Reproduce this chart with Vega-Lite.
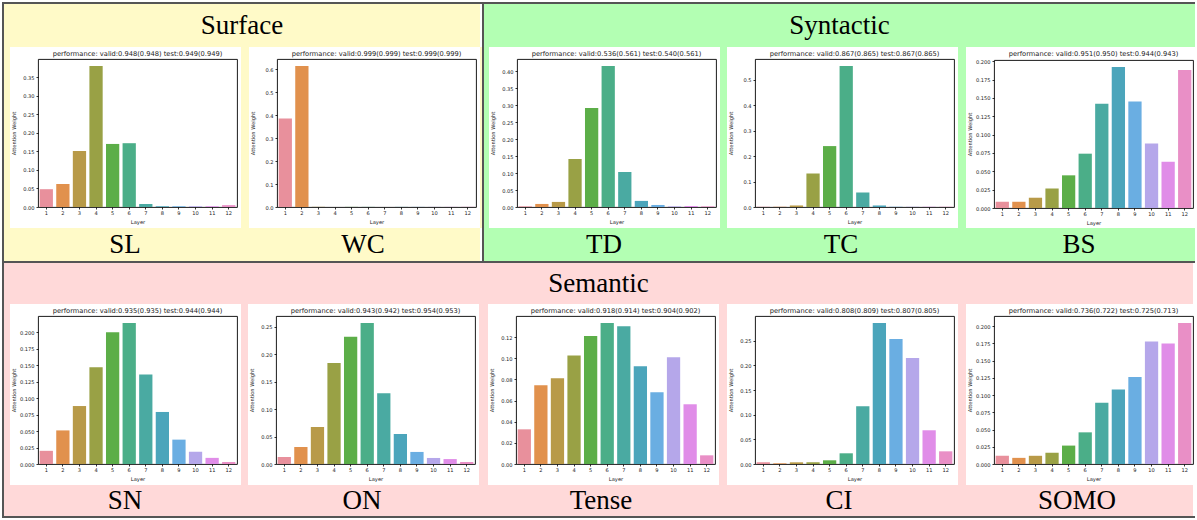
{
"$schema": "https://vega.github.io/schema/vega-lite/v6.json",
"padding": 2,
"background": "white",
"spacing": 0,
"config": {
 "concat": {"spacing": 0},
 "view": {"stroke": "#000", "strokeWidth": 0.9, "fill": "white"},
 "axis": {"domain": false, "grid": false, "tickColor": "#000", "tickSize": 2, "tickWidth": 0.8, "labelFont": "DejaVu Sans", "labelFontSize": 5.1, "labelColor": "#222", "titleFont": "DejaVu Sans", "titleFontSize": 5.2, "titleFontWeight": "normal", "titleColor": "#222"},
 "axisX": {"labelAngle": 0, "labelPadding": 1.5, "titlePadding": 4},
 "axisY": {"minExtent": 20, "maxExtent": 20, "labelPadding": 2, "titlePadding": 2},
 "title": {"font": "DejaVu Sans", "fontSize": 6.7, "fontWeight": "normal", "color": "#1a1a1a", "offset": 1.5}
},
"datasets": {
 "attn": [
  {"task":"SL","layer":1,"weight":0.048},{"task":"SL","layer":2,"weight":0.062},{"task":"SL","layer":3,"weight":0.151},{"task":"SL","layer":4,"weight":0.380},{"task":"SL","layer":5,"weight":0.170},{"task":"SL","layer":6,"weight":0.172},{"task":"SL","layer":7,"weight":0.008},{"task":"SL","layer":8,"weight":0.002},{"task":"SL","layer":9,"weight":0.002},{"task":"SL","layer":10,"weight":0.002},{"task":"SL","layer":11,"weight":0.002},{"task":"SL","layer":12,"weight":0.005},
  {"task":"WC","layer":1,"weight":0.386},{"task":"WC","layer":2,"weight":0.614},{"task":"WC","layer":3,"weight":0.0008},{"task":"WC","layer":4,"weight":0.0005},{"task":"WC","layer":5,"weight":0.0005},{"task":"WC","layer":6,"weight":0.0005},{"task":"WC","layer":7,"weight":0.0005},{"task":"WC","layer":8,"weight":0.0005},{"task":"WC","layer":9,"weight":0.0005},{"task":"WC","layer":10,"weight":0.0005},{"task":"WC","layer":11,"weight":0.0005},{"task":"WC","layer":12,"weight":0.0008},
  {"task":"TD","layer":1,"weight":0.002},{"task":"TD","layer":2,"weight":0.009},{"task":"TD","layer":3,"weight":0.015},{"task":"TD","layer":4,"weight":0.142},{"task":"TD","layer":5,"weight":0.292},{"task":"TD","layer":6,"weight":0.416},{"task":"TD","layer":7,"weight":0.103},{"task":"TD","layer":8,"weight":0.018},{"task":"TD","layer":9,"weight":0.006},{"task":"TD","layer":10,"weight":0.002},{"task":"TD","layer":11,"weight":0.003},{"task":"TD","layer":12,"weight":0.002},
  {"task":"TC","layer":1,"weight":0.001},{"task":"TC","layer":2,"weight":0.001},{"task":"TC","layer":3,"weight":0.006},{"task":"TC","layer":4,"weight":0.131},{"task":"TC","layer":5,"weight":0.239},{"task":"TC","layer":6,"weight":0.553},{"task":"TC","layer":7,"weight":0.057},{"task":"TC","layer":8,"weight":0.006},{"task":"TC","layer":9,"weight":0.001},{"task":"TC","layer":10,"weight":0.001},{"task":"TC","layer":11,"weight":0.001},{"task":"TC","layer":12,"weight":0.001},
  {"task":"BS","layer":1,"weight":0.0085},{"task":"BS","layer":2,"weight":0.0085},{"task":"BS","layer":3,"weight":0.014},{"task":"BS","layer":4,"weight":0.0265},{"task":"BS","layer":5,"weight":0.0445},{"task":"BS","layer":6,"weight":0.074},{"task":"BS","layer":7,"weight":0.142},{"task":"BS","layer":8,"weight":0.192},{"task":"BS","layer":9,"weight":0.145},{"task":"BS","layer":10,"weight":0.088},{"task":"BS","layer":11,"weight":0.063},{"task":"BS","layer":12,"weight":0.188},
  {"task":"SN","layer":1,"weight":0.020},{"task":"SN","layer":2,"weight":0.051},{"task":"SN","layer":3,"weight":0.088},{"task":"SN","layer":4,"weight":0.147},{"task":"SN","layer":5,"weight":0.200},{"task":"SN","layer":6,"weight":0.214},{"task":"SN","layer":7,"weight":0.136},{"task":"SN","layer":8,"weight":0.079},{"task":"SN","layer":9,"weight":0.037},{"task":"SN","layer":10,"weight":0.0186},{"task":"SN","layer":11,"weight":0.0093},{"task":"SN","layer":12,"weight":0.003},
  {"task":"ON","layer":1,"weight":0.0128},{"task":"ON","layer":2,"weight":0.031},{"task":"ON","layer":3,"weight":0.0675},{"task":"ON","layer":4,"weight":0.184},{"task":"ON","layer":5,"weight":0.232},{"task":"ON","layer":6,"weight":0.257},{"task":"ON","layer":7,"weight":0.129},{"task":"ON","layer":8,"weight":0.0547},{"task":"ON","layer":9,"weight":0.022},{"task":"ON","layer":10,"weight":0.011},{"task":"ON","layer":11,"weight":0.009},{"task":"ON","layer":12,"weight":0.0036},
  {"task":"Tense","layer":1,"weight":0.0328},{"task":"Tense","layer":2,"weight":0.0745},{"task":"Tense","layer":3,"weight":0.0812},{"task":"Tense","layer":4,"weight":0.1026},{"task":"Tense","layer":5,"weight":0.121},{"task":"Tense","layer":6,"weight":0.1333},{"task":"Tense","layer":7,"weight":0.1304},{"task":"Tense","layer":8,"weight":0.0925},{"task":"Tense","layer":9,"weight":0.0679},{"task":"Tense","layer":10,"weight":0.101},{"task":"Tense","layer":11,"weight":0.0565},{"task":"Tense","layer":12,"weight":0.0082},
  {"task":"CI","layer":1,"weight":0.0034},{"task":"CI","layer":2,"weight":0.0014},{"task":"CI","layer":3,"weight":0.0034},{"task":"CI","layer":4,"weight":0.0034},{"task":"CI","layer":5,"weight":0.0075},{"task":"CI","layer":6,"weight":0.0217},{"task":"CI","layer":7,"weight":0.1172},{"task":"CI","layer":8,"weight":0.2859},{"task":"CI","layer":9,"weight":0.2534},{"task":"CI","layer":10,"weight":0.2148},{"task":"CI","layer":11,"weight":0.0684},{"task":"CI","layer":12,"weight":0.0257},
  {"task":"SOMO","layer":1,"weight":0.0119},{"task":"SOMO","layer":2,"weight":0.0089},{"task":"SOMO","layer":3,"weight":0.0119},{"task":"SOMO","layer":4,"weight":0.0163},{"task":"SOMO","layer":5,"weight":0.0267},{"task":"SOMO","layer":6,"weight":0.0459},{"task":"SOMO","layer":7,"weight":0.0889},{"task":"SOMO","layer":8,"weight":0.1081},{"task":"SOMO","layer":9,"weight":0.126},{"task":"SOMO","layer":10,"weight":0.1778},{"task":"SOMO","layer":11,"weight":0.1748},{"task":"SOMO","layer":12,"weight":0.2044}
 ]
},
"vconcat": [
 {"width": 1193, "height": 2, "view": {"fill": "#555555", "stroke": null}, "data": {"values": [{}]}, "mark": {"type": "point", "size": 0, "filled": true, "opacity": 0}, "encoding": {}},
 {"hconcat": [
  {"width": 2, "height": 257, "view": {"fill": "#555555", "stroke": null}, "data": {"values": [{}]}, "mark": {"type": "point", "size": 0, "filled": true, "opacity": 0}, "encoding": {}},
  {"vconcat": [
   {"width": 476, "height": 43, "view": {"fill": "#fffac8", "stroke": null}, "data": {"values": [{"t": "Surface"}]}, "mark": {"type": "text", "font": "Liberation Serif", "fontSize": 27, "baseline": "middle", "color": "#000"}, "encoding": {"text": {"field": "t"}}},
   {"hconcat": [
    {"width": 6, "height": 181, "view": {"fill": "#fffac8", "stroke": null}, "data": {"values": [{}]}, "mark": {"type": "point", "size": 0, "filled": true, "opacity": 0}, "encoding": {}},
    {"vconcat": [
     {"width": 202.5, "height": 3, "view": {"fill": "white", "stroke": null}, "data": {"values": [{}]}, "mark": {"type": "point", "size": 0, "filled": true, "opacity": 0}, "encoding": {}},
     {"width": 199, "height": 148, "title": "performance: valid:0.948(0.948) test:0.949(0.949)", "data": {"name": "attn"}, "transform": [{"filter": "datum.task === 'SL'"}], "mark": "bar",
      "encoding": {
       "x": {"field": "layer", "type": "ordinal", "title": "Layer", "scale": {"paddingInner": 0.2, "paddingOuter": 0.1}},
       "y": {"field": "weight", "type": "quantitative", "title": "Attention Weight", "scale": {"domain": [0, 0.399], "nice": false}, "axis": {"values": [0, 0.05, 0.1, 0.15, 0.2, 0.25, 0.3, 0.35], "format": ".2f"}},
       "color": {"field": "layer", "type": "ordinal", "scale": {"domain": [1,2,3,4,5,6,7,8,9,10,11,12], "range": ["#e8909c","#e1914d","#b89a48","#99a145","#5cae48","#4bae88","#4aaaa2","#4ba5bb","#6aaee2","#b5a7ea","#e08de8","#e98fc6"]}, "legend": null}}}
    ], "spacing": 0},
    {"width": 8, "height": 181, "view": {"fill": "#fffac8", "stroke": null}, "data": {"values": [{}]}, "mark": {"type": "point", "size": 0, "filled": true, "opacity": 0}, "encoding": {}},
    {"vconcat": [
     {"width": 202.5, "height": 3, "view": {"fill": "white", "stroke": null}, "data": {"values": [{}]}, "mark": {"type": "point", "size": 0, "filled": true, "opacity": 0}, "encoding": {}},
     {"width": 199, "height": 148, "title": "performance: valid:0.999(0.999) test:0.999(0.999)", "data": {"name": "attn"}, "transform": [{"filter": "datum.task === 'WC'"}], "mark": "bar",
      "encoding": {
       "x": {"field": "layer", "type": "ordinal", "title": "Layer", "scale": {"paddingInner": 0.2, "paddingOuter": 0.1}},
       "y": {"field": "weight", "type": "quantitative", "title": "Attention Weight", "scale": {"domain": [0, 0.645], "nice": false}, "axis": {"values": [0, 0.1, 0.2, 0.3, 0.4, 0.5, 0.6], "format": ".1f"}},
       "color": {"field": "layer", "type": "ordinal", "scale": {"domain": [1,2,3,4,5,6,7,8,9,10,11,12], "range": ["#e8909c","#e1914d","#b89a48","#99a145","#5cae48","#4bae88","#4aaaa2","#4ba5bb","#6aaee2","#b5a7ea","#e08de8","#e98fc6"]}, "legend": null}}}
    ], "spacing": 0},
    {"width": 2, "height": 181, "view": {"fill": "#fffac8", "stroke": null}, "data": {"values": [{}]}, "mark": {"type": "point", "size": 0, "filled": true, "opacity": 0}, "encoding": {}}
   ], "spacing": 0},
   {"hconcat": [
    {"width": 6, "height": 33, "view": {"fill": "#fffac8", "stroke": null}, "data": {"values": [{}]}, "mark": {"type": "point", "size": 0, "filled": true, "opacity": 0}, "encoding": {}},
    {"width": 230, "height": 33, "view": {"fill": "#fffac8", "stroke": null}, "data": {"values": [{"t": "SL"}]}, "mark": {"type": "text", "font": "Liberation Serif", "fontSize": 27, "baseline": "middle", "color": "#000"}, "encoding": {"text": {"field": "t"}}},
    {"width": 8, "height": 33, "view": {"fill": "#fffac8", "stroke": null}, "data": {"values": [{}]}, "mark": {"type": "point", "size": 0, "filled": true, "opacity": 0}, "encoding": {}},
    {"width": 230, "height": 33, "view": {"fill": "#fffac8", "stroke": null}, "data": {"values": [{"t": "WC"}]}, "mark": {"type": "text", "font": "Liberation Serif", "fontSize": 27, "baseline": "middle", "color": "#000"}, "encoding": {"text": {"field": "t"}}},
    {"width": 2, "height": 33, "view": {"fill": "#fffac8", "stroke": null}, "data": {"values": [{}]}, "mark": {"type": "point", "size": 0, "filled": true, "opacity": 0}, "encoding": {}}
   ], "spacing": 0}
  ], "spacing": 0},
  {"width": 2, "height": 257, "view": {"fill": "#555555", "stroke": null}, "data": {"values": [{}]}, "mark": {"type": "point", "size": 0, "filled": true, "opacity": 0}, "encoding": {}},
  {"vconcat": [
   {"width": 711, "height": 43, "view": {"fill": "#b3ffb3", "stroke": null}, "data": {"values": [{"t": "Syntactic"}]}, "mark": {"type": "text", "font": "Liberation Serif", "fontSize": 27, "baseline": "middle", "color": "#000"}, "encoding": {"text": {"field": "t"}}},
   {"hconcat": [
    {"width": 5, "height": 181, "view": {"fill": "#b3ffb3", "stroke": null}, "data": {"values": [{}]}, "mark": {"type": "point", "size": 0, "filled": true, "opacity": 0}, "encoding": {}},
    {"vconcat": [
     {"width": 202.5, "height": 3, "view": {"fill": "white", "stroke": null}, "data": {"values": [{}]}, "mark": {"type": "point", "size": 0, "filled": true, "opacity": 0}, "encoding": {}},
     {"width": 199, "height": 148, "title": "performance: valid:0.536(0.561) test:0.540(0.561)", "data": {"name": "attn"}, "transform": [{"filter": "datum.task === 'TD'"}], "mark": "bar",
      "encoding": {
       "x": {"field": "layer", "type": "ordinal", "title": "Layer", "scale": {"paddingInner": 0.2, "paddingOuter": 0.1}},
       "y": {"field": "weight", "type": "quantitative", "title": "Attention Weight", "scale": {"domain": [0, 0.4368], "nice": false}, "axis": {"values": [0, 0.05, 0.1, 0.15, 0.2, 0.25, 0.3, 0.35, 0.4], "format": ".2f"}},
       "color": {"field": "layer", "type": "ordinal", "scale": {"domain": [1,2,3,4,5,6,7,8,9,10,11,12], "range": ["#e8909c","#e1914d","#b89a48","#99a145","#5cae48","#4bae88","#4aaaa2","#4ba5bb","#6aaee2","#b5a7ea","#e08de8","#e98fc6"]}, "legend": null}}}
    ], "spacing": 0},
    {"width": 7, "height": 181, "view": {"fill": "#b3ffb3", "stroke": null}, "data": {"values": [{}]}, "mark": {"type": "point", "size": 0, "filled": true, "opacity": 0}, "encoding": {}},
    {"vconcat": [
     {"width": 202.5, "height": 3, "view": {"fill": "white", "stroke": null}, "data": {"values": [{}]}, "mark": {"type": "point", "size": 0, "filled": true, "opacity": 0}, "encoding": {}},
     {"width": 199, "height": 148, "title": "performance: valid:0.867(0.865) test:0.867(0.865)", "data": {"name": "attn"}, "transform": [{"filter": "datum.task === 'TC'"}], "mark": "bar",
      "encoding": {
       "x": {"field": "layer", "type": "ordinal", "title": "Layer", "scale": {"paddingInner": 0.2, "paddingOuter": 0.1}},
       "y": {"field": "weight", "type": "quantitative", "title": "Attention Weight", "scale": {"domain": [0, 0.5807], "nice": false}, "axis": {"values": [0, 0.1, 0.2, 0.3, 0.4, 0.5], "format": ".1f"}},
       "color": {"field": "layer", "type": "ordinal", "scale": {"domain": [1,2,3,4,5,6,7,8,9,10,11,12], "range": ["#e8909c","#e1914d","#b89a48","#99a145","#5cae48","#4bae88","#4aaaa2","#4ba5bb","#6aaee2","#b5a7ea","#e08de8","#e98fc6"]}, "legend": null}}}
    ], "spacing": 0},
    {"width": 8, "height": 181, "view": {"fill": "#b3ffb3", "stroke": null}, "data": {"values": [{}]}, "mark": {"type": "point", "size": 0, "filled": true, "opacity": 0}, "encoding": {}},
    {"vconcat": [
     {"width": 202.5, "height": 3, "view": {"fill": "white", "stroke": null}, "data": {"values": [{}]}, "mark": {"type": "point", "size": 0, "filled": true, "opacity": 0}, "encoding": {}},
     {"width": 199, "height": 148, "title": "performance: valid:0.951(0.950) test:0.944(0.943)", "data": {"name": "attn"}, "transform": [{"filter": "datum.task === 'BS'"}], "mark": "bar",
      "encoding": {
       "x": {"field": "layer", "type": "ordinal", "title": "Layer", "scale": {"paddingInner": 0.2, "paddingOuter": 0.1}},
       "y": {"field": "weight", "type": "quantitative", "title": "Attention Weight", "scale": {"domain": [0, 0.2016], "nice": false}, "axis": {"values": [0, 0.025, 0.05, 0.075, 0.1, 0.125, 0.15, 0.175, 0.2], "format": ".3f"}},
       "color": {"field": "layer", "type": "ordinal", "scale": {"domain": [1,2,3,4,5,6,7,8,9,10,11,12], "range": ["#e8909c","#e1914d","#b89a48","#99a145","#5cae48","#4bae88","#4aaaa2","#4ba5bb","#6aaee2","#b5a7ea","#e08de8","#e98fc6"]}, "legend": null}}}
    ], "spacing": 0},
    {"width": 1, "height": 181, "view": {"fill": "#b3ffb3", "stroke": null}, "data": {"values": [{}]}, "mark": {"type": "point", "size": 0, "filled": true, "opacity": 0}, "encoding": {}}
   ], "spacing": 0},
   {"hconcat": [
    {"width": 5, "height": 33, "view": {"fill": "#b3ffb3", "stroke": null}, "data": {"values": [{}]}, "mark": {"type": "point", "size": 0, "filled": true, "opacity": 0}, "encoding": {}},
    {"width": 230, "height": 33, "view": {"fill": "#b3ffb3", "stroke": null}, "data": {"values": [{"t": "TD"}]}, "mark": {"type": "text", "font": "Liberation Serif", "fontSize": 27, "baseline": "middle", "color": "#000"}, "encoding": {"text": {"field": "t"}}},
    {"width": 7, "height": 33, "view": {"fill": "#b3ffb3", "stroke": null}, "data": {"values": [{}]}, "mark": {"type": "point", "size": 0, "filled": true, "opacity": 0}, "encoding": {}},
    {"width": 230, "height": 33, "view": {"fill": "#b3ffb3", "stroke": null}, "data": {"values": [{"t": "TC"}]}, "mark": {"type": "text", "font": "Liberation Serif", "fontSize": 27, "baseline": "middle", "color": "#000"}, "encoding": {"text": {"field": "t"}}},
    {"width": 8, "height": 33, "view": {"fill": "#b3ffb3", "stroke": null}, "data": {"values": [{}]}, "mark": {"type": "point", "size": 0, "filled": true, "opacity": 0}, "encoding": {}},
    {"width": 230, "height": 33, "view": {"fill": "#b3ffb3", "stroke": null}, "data": {"values": [{"t": "BS"}]}, "mark": {"type": "text", "font": "Liberation Serif", "fontSize": 27, "baseline": "middle", "color": "#000"}, "encoding": {"text": {"field": "t"}}},
    {"width": 1, "height": 33, "view": {"fill": "#b3ffb3", "stroke": null}, "data": {"values": [{}]}, "mark": {"type": "point", "size": 0, "filled": true, "opacity": 0}, "encoding": {}}
   ], "spacing": 0}
  ], "spacing": 0},
  {"width": 2, "height": 257, "view": {"fill": "#555555", "stroke": null}, "data": {"values": [{}]}, "mark": {"type": "point", "size": 0, "filled": true, "opacity": 0}, "encoding": {}}
 ], "spacing": 0},
 {"width": 1193, "height": 2, "view": {"fill": "#555555", "stroke": null}, "data": {"values": [{}]}, "mark": {"type": "point", "size": 0, "filled": true, "opacity": 0}, "encoding": {}},
 {"hconcat": [
  {"width": 2, "height": 253, "view": {"fill": "#555555", "stroke": null}, "data": {"values": [{}]}, "mark": {"type": "point", "size": 0, "filled": true, "opacity": 0}, "encoding": {}},
  {"vconcat": [
   {"width": 1189, "height": 41, "view": {"fill": "#ffd9d9", "stroke": null}, "data": {"values": [{"t": "Semantic"}]}, "mark": {"type": "text", "font": "Liberation Serif", "fontSize": 27, "baseline": "middle", "color": "#000"}, "encoding": {"text": {"field": "t"}}},
   {"hconcat": [
    {"width": 6, "height": 181, "view": {"fill": "#ffd9d9", "stroke": null}, "data": {"values": [{}]}, "mark": {"type": "point", "size": 0, "filled": true, "opacity": 0}, "encoding": {}},
    {"vconcat": [
     {"width": 202.5, "height": 3, "view": {"fill": "white", "stroke": null}, "data": {"values": [{}]}, "mark": {"type": "point", "size": 0, "filled": true, "opacity": 0}, "encoding": {}},
     {"width": 199, "height": 148, "title": "performance: valid:0.935(0.935) test:0.944(0.944)", "data": {"name": "attn"}, "transform": [{"filter": "datum.task === 'SN'"}], "mark": "bar",
      "encoding": {
       "x": {"field": "layer", "type": "ordinal", "title": "Layer", "scale": {"paddingInner": 0.2, "paddingOuter": 0.1}},
       "y": {"field": "weight", "type": "quantitative", "title": "Attention Weight", "scale": {"domain": [0, 0.2247], "nice": false}, "axis": {"values": [0, 0.025, 0.05, 0.075, 0.1, 0.125, 0.15, 0.175, 0.2], "format": ".3f"}},
       "color": {"field": "layer", "type": "ordinal", "scale": {"domain": [1,2,3,4,5,6,7,8,9,10,11,12], "range": ["#e8909c","#e1914d","#b89a48","#99a145","#5cae48","#4bae88","#4aaaa2","#4ba5bb","#6aaee2","#b5a7ea","#e08de8","#e98fc6"]}, "legend": null}}}
    ], "spacing": 0},
    {"width": 7, "height": 181, "view": {"fill": "#ffd9d9", "stroke": null}, "data": {"values": [{}]}, "mark": {"type": "point", "size": 0, "filled": true, "opacity": 0}, "encoding": {}},
    {"vconcat": [
     {"width": 202.5, "height": 3, "view": {"fill": "white", "stroke": null}, "data": {"values": [{}]}, "mark": {"type": "point", "size": 0, "filled": true, "opacity": 0}, "encoding": {}},
     {"width": 199, "height": 148, "title": "performance: valid:0.943(0.942) test:0.954(0.953)", "data": {"name": "attn"}, "transform": [{"filter": "datum.task === 'ON'"}], "mark": "bar",
      "encoding": {
       "x": {"field": "layer", "type": "ordinal", "title": "Layer", "scale": {"paddingInner": 0.2, "paddingOuter": 0.1}},
       "y": {"field": "weight", "type": "quantitative", "title": "Attention Weight", "scale": {"domain": [0, 0.2699], "nice": false}, "axis": {"values": [0, 0.05, 0.1, 0.15, 0.2, 0.25], "format": ".2f"}},
       "color": {"field": "layer", "type": "ordinal", "scale": {"domain": [1,2,3,4,5,6,7,8,9,10,11,12], "range": ["#e8909c","#e1914d","#b89a48","#99a145","#5cae48","#4bae88","#4aaaa2","#4ba5bb","#6aaee2","#b5a7ea","#e08de8","#e98fc6"]}, "legend": null}}}
    ], "spacing": 0},
    {"width": 9, "height": 181, "view": {"fill": "#ffd9d9", "stroke": null}, "data": {"values": [{}]}, "mark": {"type": "point", "size": 0, "filled": true, "opacity": 0}, "encoding": {}},
    {"vconcat": [
     {"width": 202.5, "height": 3, "view": {"fill": "white", "stroke": null}, "data": {"values": [{}]}, "mark": {"type": "point", "size": 0, "filled": true, "opacity": 0}, "encoding": {}},
     {"width": 199, "height": 148, "title": "performance: valid:0.918(0.914) test:0.904(0.902)", "data": {"name": "attn"}, "transform": [{"filter": "datum.task === 'Tense'"}], "mark": "bar",
      "encoding": {
       "x": {"field": "layer", "type": "ordinal", "title": "Layer", "scale": {"paddingInner": 0.2, "paddingOuter": 0.1}},
       "y": {"field": "weight", "type": "quantitative", "title": "Attention Weight", "scale": {"domain": [0, 0.14], "nice": false}, "axis": {"values": [0, 0.02, 0.04, 0.06, 0.08, 0.1, 0.12], "format": ".2f"}},
       "color": {"field": "layer", "type": "ordinal", "scale": {"domain": [1,2,3,4,5,6,7,8,9,10,11,12], "range": ["#e8909c","#e1914d","#b89a48","#99a145","#5cae48","#4bae88","#4aaaa2","#4ba5bb","#6aaee2","#b5a7ea","#e08de8","#e98fc6"]}, "legend": null}}}
    ], "spacing": 0},
    {"width": 8, "height": 181, "view": {"fill": "#ffd9d9", "stroke": null}, "data": {"values": [{}]}, "mark": {"type": "point", "size": 0, "filled": true, "opacity": 0}, "encoding": {}},
    {"vconcat": [
     {"width": 202.5, "height": 3, "view": {"fill": "white", "stroke": null}, "data": {"values": [{}]}, "mark": {"type": "point", "size": 0, "filled": true, "opacity": 0}, "encoding": {}},
     {"width": 199, "height": 148, "title": "performance: valid:0.808(0.809) test:0.807(0.805)", "data": {"name": "attn"}, "transform": [{"filter": "datum.task === 'CI'"}], "mark": "bar",
      "encoding": {
       "x": {"field": "layer", "type": "ordinal", "title": "Layer", "scale": {"paddingInner": 0.2, "paddingOuter": 0.1}},
       "y": {"field": "weight", "type": "quantitative", "title": "Attention Weight", "scale": {"domain": [0, 0.3002], "nice": false}, "axis": {"values": [0, 0.05, 0.1, 0.15, 0.2, 0.25], "format": ".2f"}},
       "color": {"field": "layer", "type": "ordinal", "scale": {"domain": [1,2,3,4,5,6,7,8,9,10,11,12], "range": ["#e8909c","#e1914d","#b89a48","#99a145","#5cae48","#4bae88","#4aaaa2","#4ba5bb","#6aaee2","#b5a7ea","#e08de8","#e98fc6"]}, "legend": null}}}
    ], "spacing": 0},
    {"width": 8, "height": 181, "view": {"fill": "#ffd9d9", "stroke": null}, "data": {"values": [{}]}, "mark": {"type": "point", "size": 0, "filled": true, "opacity": 0}, "encoding": {}},
    {"vconcat": [
     {"width": 202.5, "height": 3, "view": {"fill": "white", "stroke": null}, "data": {"values": [{}]}, "mark": {"type": "point", "size": 0, "filled": true, "opacity": 0}, "encoding": {}},
     {"width": 199, "height": 148, "title": "performance: valid:0.736(0.722) test:0.725(0.713)", "data": {"name": "attn"}, "transform": [{"filter": "datum.task === 'SOMO'"}], "mark": "bar",
      "encoding": {
       "x": {"field": "layer", "type": "ordinal", "title": "Layer", "scale": {"paddingInner": 0.2, "paddingOuter": 0.1}},
       "y": {"field": "weight", "type": "quantitative", "title": "Attention Weight", "scale": {"domain": [0, 0.2146], "nice": false}, "axis": {"values": [0, 0.025, 0.05, 0.075, 0.1, 0.125, 0.15, 0.175, 0.2], "format": ".3f"}},
       "color": {"field": "layer", "type": "ordinal", "scale": {"domain": [1,2,3,4,5,6,7,8,9,10,11,12], "range": ["#e8909c","#e1914d","#b89a48","#99a145","#5cae48","#4bae88","#4aaaa2","#4ba5bb","#6aaee2","#b5a7ea","#e08de8","#e98fc6"]}, "legend": null}}}
    ], "spacing": 0},
    {"width": 1, "height": 181, "view": {"fill": "#ffd9d9", "stroke": null}, "data": {"values": [{}]}, "mark": {"type": "point", "size": 0, "filled": true, "opacity": 0}, "encoding": {}}
   ], "spacing": 0},
   {"hconcat": [
    {"width": 6, "height": 31, "view": {"fill": "#ffd9d9", "stroke": null}, "data": {"values": [{}]}, "mark": {"type": "point", "size": 0, "filled": true, "opacity": 0}, "encoding": {}},
    {"width": 230, "height": 31, "view": {"fill": "#ffd9d9", "stroke": null}, "data": {"values": [{"t": "SN"}]}, "mark": {"type": "text", "font": "Liberation Serif", "fontSize": 27, "baseline": "middle", "color": "#000"}, "encoding": {"text": {"field": "t"}}},
    {"width": 7, "height": 31, "view": {"fill": "#ffd9d9", "stroke": null}, "data": {"values": [{}]}, "mark": {"type": "point", "size": 0, "filled": true, "opacity": 0}, "encoding": {}},
    {"width": 230, "height": 31, "view": {"fill": "#ffd9d9", "stroke": null}, "data": {"values": [{"t": "ON"}]}, "mark": {"type": "text", "font": "Liberation Serif", "fontSize": 27, "baseline": "middle", "color": "#000"}, "encoding": {"text": {"field": "t"}}},
    {"width": 9, "height": 31, "view": {"fill": "#ffd9d9", "stroke": null}, "data": {"values": [{}]}, "mark": {"type": "point", "size": 0, "filled": true, "opacity": 0}, "encoding": {}},
    {"width": 230, "height": 31, "view": {"fill": "#ffd9d9", "stroke": null}, "data": {"values": [{"t": "Tense"}]}, "mark": {"type": "text", "font": "Liberation Serif", "fontSize": 27, "baseline": "middle", "color": "#000"}, "encoding": {"text": {"field": "t"}}},
    {"width": 8, "height": 31, "view": {"fill": "#ffd9d9", "stroke": null}, "data": {"values": [{}]}, "mark": {"type": "point", "size": 0, "filled": true, "opacity": 0}, "encoding": {}},
    {"width": 230, "height": 31, "view": {"fill": "#ffd9d9", "stroke": null}, "data": {"values": [{"t": "CI"}]}, "mark": {"type": "text", "font": "Liberation Serif", "fontSize": 27, "baseline": "middle", "color": "#000"}, "encoding": {"text": {"field": "t"}}},
    {"width": 8, "height": 31, "view": {"fill": "#ffd9d9", "stroke": null}, "data": {"values": [{}]}, "mark": {"type": "point", "size": 0, "filled": true, "opacity": 0}, "encoding": {}},
    {"width": 230, "height": 31, "view": {"fill": "#ffd9d9", "stroke": null}, "data": {"values": [{"t": "SOMO"}]}, "mark": {"type": "text", "font": "Liberation Serif", "fontSize": 27, "baseline": "middle", "color": "#000"}, "encoding": {"text": {"field": "t"}}},
    {"width": 1, "height": 31, "view": {"fill": "#ffd9d9", "stroke": null}, "data": {"values": [{}]}, "mark": {"type": "point", "size": 0, "filled": true, "opacity": 0}, "encoding": {}}
   ], "spacing": 0}
  ], "spacing": 0},
  {"width": 2, "height": 253, "view": {"fill": "#555555", "stroke": null}, "data": {"values": [{}]}, "mark": {"type": "point", "size": 0, "filled": true, "opacity": 0}, "encoding": {}}
 ], "spacing": 0},
 {"width": 1193, "height": 2, "view": {"fill": "#555555", "stroke": null}, "data": {"values": [{}]}, "mark": {"type": "point", "size": 0, "filled": true, "opacity": 0}, "encoding": {}}
]
}
